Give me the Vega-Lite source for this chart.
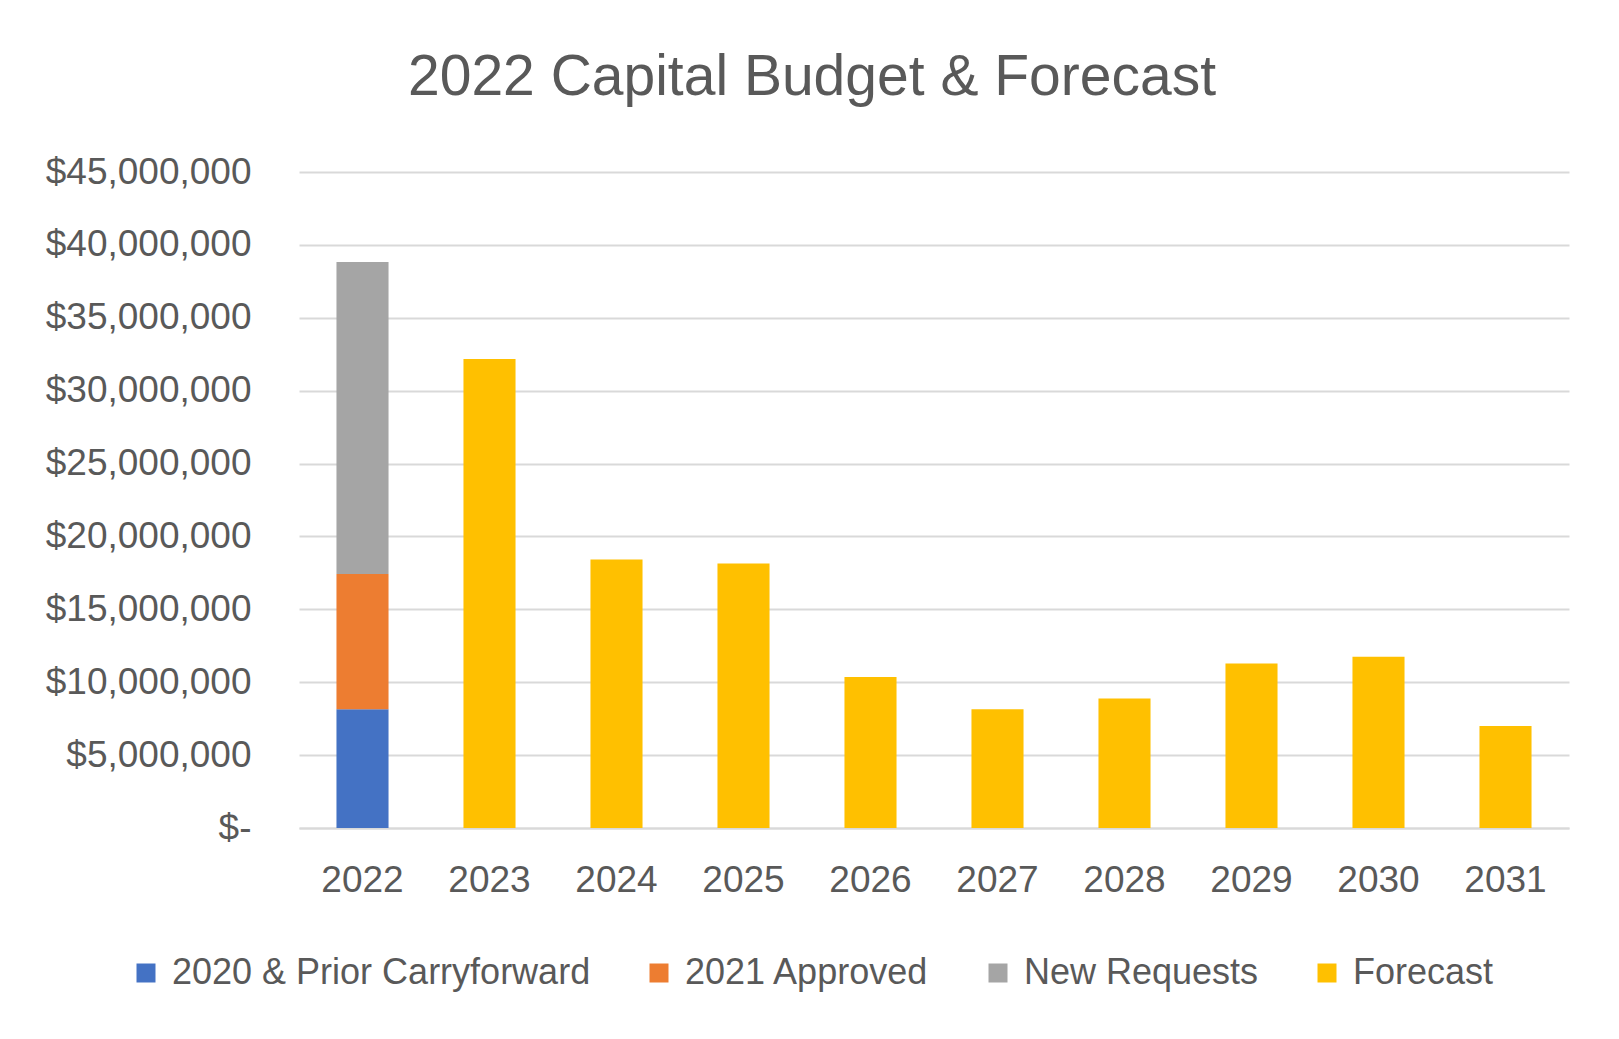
{
  "$schema": "https://vega.github.io/schema/vega-lite/v6.json",
  "width": 1270,
  "height": 656,
  "autosize": {"type": "none"},
  "padding": {"left": 299, "top": 172, "right": 50, "bottom": 211},
  "background": "white",
  "title": {
    "text": "2022 Capital Budget & Forecast",
    "font": "Liberation Sans",
    "fontSize": 57,
    "fontWeight": "normal",
    "color": "#595959",
    "anchor": "middle",
    "frame": "group",
    "dx": -122,
    "offset": 46
  },
  "data": {
    "values": [
      {"year": "2022", "series": "2020 & Prior Carryforward", "amount": 8150000},
      {"year": "2022", "series": "2021 Approved", "amount": 9280000},
      {"year": "2022", "series": "New Requests", "amount": 21400000},
      {"year": "2023", "series": "Forecast", "amount": 32170000},
      {"year": "2024", "series": "Forecast", "amount": 18420000},
      {"year": "2025", "series": "Forecast", "amount": 18140000},
      {"year": "2026", "series": "Forecast", "amount": 10350000},
      {"year": "2027", "series": "Forecast", "amount": 8150000},
      {"year": "2028", "series": "Forecast", "amount": 8880000},
      {"year": "2029", "series": "Forecast", "amount": 11280000},
      {"year": "2030", "series": "Forecast", "amount": 11750000},
      {"year": "2031", "series": "Forecast", "amount": 7000000}
    ]
  },
  "mark": {"type": "bar"},
  "encoding": {
    "x": {
      "field": "year",
      "type": "ordinal",
      "scale": {"paddingInner": 0.59, "paddingOuter": 0.295},
      "axis": {
        "title": null,
        "labelAngle": 0,
        "ticks": false,
        "tickSize": 0,
        "domainColor": "#d9d9d9",
        "domainWidth": 2,
        "labelFont": "Liberation Sans",
        "labelFontSize": 37,
        "labelColor": "#595959",
        "labelPadding": 34,
        "grid": false
      }
    },
    "y": {
      "field": "amount",
      "type": "quantitative",
      "stack": "zero",
      "scale": {"domain": [0, 45000000], "nice": false},
      "axis": {
        "title": null,
        "domain": false,
        "ticks": false,
        "tickSize": 0,
        "grid": true,
        "gridColor": "#d9d9d9",
        "gridWidth": 2,
        "values": [0, 5000000, 10000000, 15000000, 20000000, 25000000, 30000000, 35000000, 40000000, 45000000],
        "labelExpr": "datum.value === 0 ? '$-\u00a0' : format(datum.value, '$,.0f')",
        "labelFont": "Liberation Sans",
        "labelFontSize": 37,
        "labelColor": "#595959",
        "labelPadding": 48,
        "labelLimit": 400
      }
    },
    "order": {"field": "series", "sort": "ascending"},
    "color": {
      "field": "series",
      "type": "nominal",
      "scale": {
        "domain": ["2020 & Prior Carryforward", "2021 Approved", "New Requests", "Forecast"],
        "range": ["#4472C4", "#ED7D31", "#A5A5A5", "#FFC000"]
      },
      "legend": {
        "title": null,
        "orient": "none",
        "legendX": -171,
        "legendY": 783,
        "direction": "horizontal",
        "columns": 4,
        "columnPadding": 50,
        "symbolType": "square",
        "symbolSize": 361,
        "symbolStrokeWidth": 0,
        "labelFont": "Liberation Sans",
        "labelFontSize": 36,
        "labelColor": "#595959",
        "labelOffset": 8,
        "labelLimit": 600
      }
    }
  },
  "config": {"view": {"stroke": null}}
}
